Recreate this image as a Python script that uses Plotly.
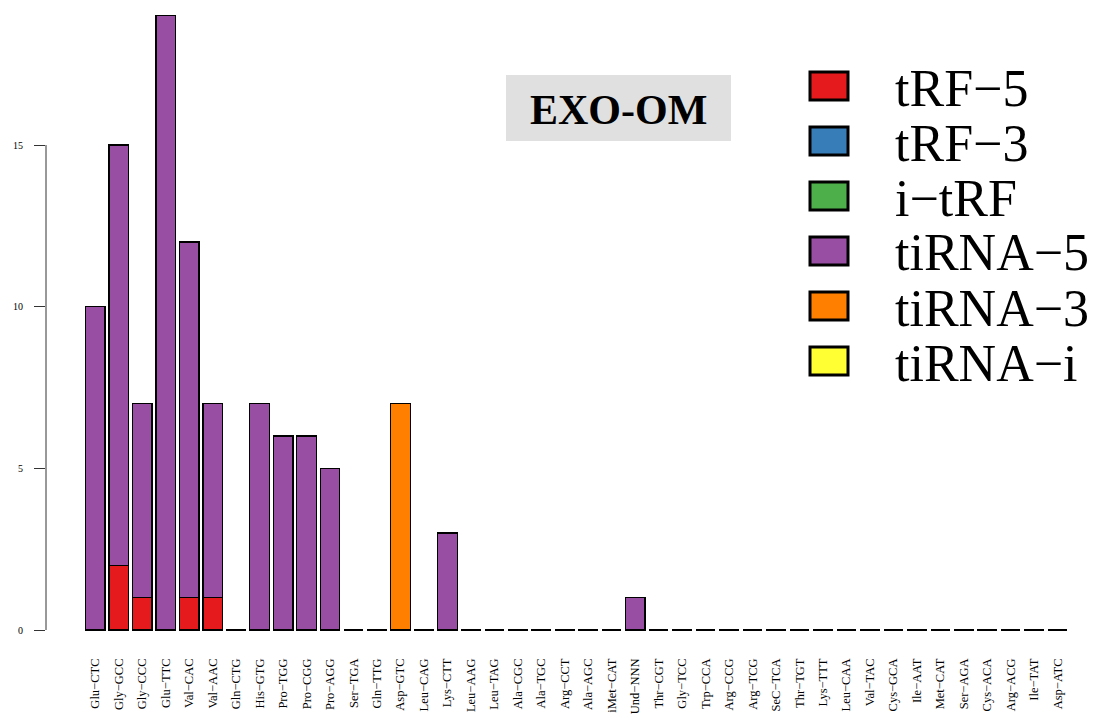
import plotly.graph_objects as go

categories = ["Glu-CTC", "Gly-GCC", "Gly-CCC", "Glu-TTC", "Val-CAC", "Val-AAC", "Gln-CTG",
              "His-GTG", "Pro-TGG", "Pro-CGG", "Pro-AGG", "Ser-TGA", "Gln-TTG", "Asp-GTC",
              "Leu-CAG", "Lys-CTT", "Leu-AAG", "Leu-TAG", "Ala-CGC", "Ala-TGC", "Arg-CCT",
              "Ala-AGC", "iMet-CAT", "Und-NNN", "Thr-CGT", "Gly-TCC", "Trp-CCA", "Arg-CCG",
              "Arg-TCG", "SeC-TCA", "Thr-TGT", "Lys-TTT", "Leu-CAA", "Val-TAC", "Cys-GCA",
              "Ile-AAT", "Met-CAT", "Ser-AGA", "Cys-ACA", "Arg-ACG", "Ile-TAT", "Asp-ATC"]

n = len(categories)
tRF_5 = [0, 2, 1, 0, 1, 1] + [0] * (n - 6)
tRF_3 = [0] * n
i_tRF = [0] * n
tiRNA_5 = [10, 13, 6, 19, 11, 6, 0, 7, 6, 6, 5, 0, 0, 0, 0, 3, 0, 0, 0, 0, 0, 0, 0, 1] + [0] * (n - 24)
tiRNA_3 = [0] * 13 + [7] + [0] * (n - 14)
tiRNA_i = [0] * n

series_names = ["tRF\u22125", "tRF\u22123", "i\u2212tRF", "tiRNA\u22125", "tiRNA\u22123", "tiRNA\u2212i"]
series_values = [tRF_5, tRF_3, i_tRF, tiRNA_5, tiRNA_3, tiRNA_i]
colors = ["#E41A1C", "#377EB8", "#4DAF4A", "#984EA3", "#FF7F00", "#FFFF33"]

y_ticks = [0, 5, 10, 15]
title_text = "EXO-OM"

# the page body adds an 8px offset; figure pixel = page pixel - 8
OFF = 8
W, H = 1105, 711
ML, MR, MT, MB = 38, 7, 0, 64
PW, PH = W - ML - MR, H - MT - MB


def px(x):
    return (x - OFF - ML) / PW


def py(y):
    return (H - MB - (y - OFF)) / PH


FONT = "Liberation Serif, Times New Roman, serif"

fig = go.Figure()
for name, vals, col in zip(series_names, series_values, colors):
    fig.add_trace(go.Bar(
        x=list(range(n)), y=vals, name=name,
        marker=dict(color=col, line=dict(color="black", width=1.3)),
        width=1 / 1.2, showlegend=False,
    ))

fig.update_layout(
    width=W, height=H,
    margin=dict(l=ML, r=MR, t=MT, b=MB, autoexpand=False),
    barmode="stack",
    plot_bgcolor="white", paper_bgcolor="white",
    font=dict(family=FONT, color="black"),
    xaxis=dict(
        range=[-2.10, 43.06], tickmode="array", tickvals=list(range(n)),
        ticktext=[c.replace("-", "\u2212") for c in categories],
        tickangle=-90, tickfont=dict(size=12.5, family=FONT, color="black"),
        showgrid=False, zeroline=False, showline=False, ticks="",
    ),
    yaxis=dict(
        range=[-0.773, 19.24], tickmode="array", tickvals=y_ticks,
        ticktext=[str(v) for v in y_ticks],
        tickfont=dict(size=10, family=FONT, color="black"),
        ticks="outside", ticklen=11, tickwidth=1, tickcolor="#333",
        ticklabelstandoff=9,
        showgrid=False, zeroline=False, showline=False,
    ),
)

# y axis line (R style, only spanning the tick range)
fig.add_shape(type="line", xref="paper", yref="y", x0=0, x1=0,
              y0=min(y_ticks), y1=max(y_ticks), line=dict(color="#333", width=1))

# title box
fig.add_shape(type="rect", xref="paper", yref="paper",
              x0=px(506), x1=px(731), y0=py(141), y1=py(75),
              fillcolor="#e0e0e0", line=dict(width=0), layer="below")
fig.add_annotation(xref="paper", yref="paper", x=px(618.5), y=py(110),
                   text="<b>" + title_text + "</b>", showarrow=False,
                   font=dict(size=42, family=FONT, color="black"),
                   xanchor="center", yanchor="middle")

# manual legend
row0, step = 86, 55
for i, (name, col) in enumerate(zip(series_names, colors)):
    cy = row0 + i * step
    fig.add_shape(type="rect", xref="paper", yref="paper",
                  x0=px(810), x1=px(848), y0=py(cy + 14), y1=py(cy - 14),
                  fillcolor=col, line=dict(color="black", width=3))
    fig.add_annotation(xref="paper", yref="paper", x=px(893), y=py(cy + 2),
                       text=name, showarrow=False, xanchor="left", yanchor="middle",
                       font=dict(size=52, family=FONT, color="black"))

fig.write_html("out.html")
